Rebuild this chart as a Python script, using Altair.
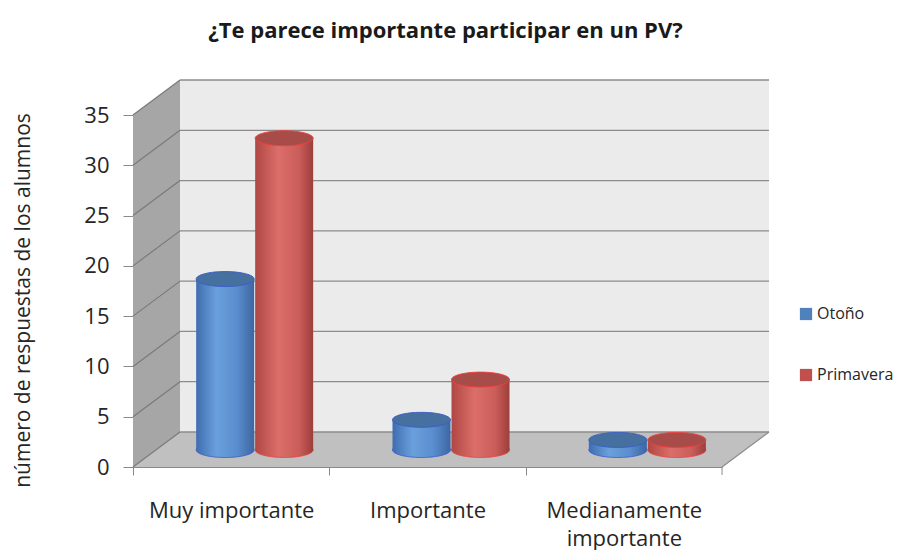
import altair as alt
import pandas as pd

# ---- data ----
categories = ["Muy importante", "Importante", "Medianamente importante"]
series = ["Otoño", "Primavera"]
otono = [17, 3, 1]
primavera = [31, 7, 1]
y_ticks = [0, 5, 10, 15, 20, 25, 30, 35]
title_text = "¿Te parece importante participar en un PV?"
y_title = "número de respuestas de los alumnos"

rows = []
for c, o, p in zip(categories, otono, primavera):
    rows.append({"categoria": c, "serie": series[0], "valor": o})
    rows.append({"categoria": c, "serie": series[1], "valor": p})
df = pd.DataFrame(rows)
ticks_df = pd.DataFrame({"v": y_ticks})
one = pd.DataFrame({"k": [0]})

# ---- layout (pixels) ----
W, H = 589, 352          # front frame of the plot
DX, DY = 47, -35         # 3D depth offset of the back wall
CY = -17                 # cylinders sit a bit behind the front edge
BW = 58                  # cylinder width
RX, RY = BW / 2, 7.5
FONT = "Open Sans"

yscale = alt.Scale(domain=[0, 35], nice=False, zero=True)
xscale = alt.Scale(domain=categories, paddingInner=0, paddingOuter=0)

X = alt.X("categoria:N", scale=xscale, sort=categories,
          axis=alt.Axis(title=None, labelAngle=0, tickOffset=-W / 6, labelOffset=W / 6,
                        domainColor="#8a8a8a", tickColor="#8a8a8a", tickSize=8,
                        labelFont=FONT, labelFontSize=22, labelColor="#262626",
                        labelPadding=25, labelLineHeight=28,
                        labelExpr="datum.value == 'Medianamente importante' ? ['Medianamente', 'importante'] : datum.label"))


def poly(path, color):
    return alt.Chart(one).mark_point(
        shape=path, size=4, filled=True, opacity=1, fill=color, strokeWidth=0
    ).encode(x=alt.value(0), y=alt.value(0))


back = poly(f"M {DX} {DY} L {W+DX} {DY} L {W+DX} {H+DY} L {DX} {H+DY} Z", "#ebebeb")
side = poly(f"M 0 0 L {DX} {DY} L {DX} {H+DY} L 0 {H} Z", "#a6a6a6")
floor = poly(f"M 0 {H} L {DX} {H+DY} L {W+DX} {H+DY} L {W} {H} Z", "#c0c0c0")

grid_back = alt.Chart(ticks_df).mark_rule(color="#8c8c8c", strokeWidth=1.3, yOffset=DY).encode(
    x=alt.value(DX), x2=alt.value(W + DX),
    y=alt.Y("v:Q", scale=yscale,
            axis=alt.Axis(title=y_title, values=y_ticks, grid=False,
                          domainColor="#8a8a8a", tickColor="#8a8a8a", tickSize=10,
                          labelFont=FONT, labelFontSize=22, labelColor="#262626",
                          labelPadding=14,
                          titleFont=FONT, titleFontSize=21, titleFontWeight="normal",
                          titleColor="#262626", titleAngle=-90,
                          titleX=-110, titleY=185, titleAlign="center",
                          titleBaseline="middle")),
)
grid_side = alt.Chart(ticks_df).mark_rule(color="#7a7a7a", strokeWidth=1.2, y2Offset=DY).encode(
    x=alt.value(0), x2=alt.value(DX),
    y=alt.Y("v:Q", scale=yscale), y2="v:Q",
)
edge_right = alt.Chart(one).mark_rule(color="#8c8c8c", strokeWidth=1.3).encode(
    x=alt.value(W), x2=alt.value(W + DX), y=alt.value(H), y2=alt.value(H + DY)
)
tick_end = alt.Chart(one).mark_rule(color="#8a8a8a", strokeWidth=1).encode(
    x=alt.value(W), y=alt.value(H), y2=alt.value(H + 8)
)


def grad(stops):
    return alt.LinearGradient(
        gradient="linear", x1=0, x2=1, y1=0, y2=0,
        stops=[alt.GradientStop(offset=o, color=c) for o, c in stops],
    )


ELL = f"M {-RX} 0 A {RX} {RY} 0 1 0 {RX} 0 A {RX} {RY} 0 1 0 {-RX} 0 Z"

styles = {
    "Otoño": dict(dx=-6,
                  body=grad([(0, "#3f6db0"), (0.35, "#6aa0dc"), (0.7, "#5a8ecf"), (1, "#3d66a2")]),
                  top="#45709f", stroke="#3b5cc8"),
    "Primavera": dict(dx=53,
                      body=grad([(0, "#b04744"), (0.4, "#db6e69"), (0.75, "#cb5e5a"), (1, "#9c3e3b")]),
                      top="#a84c49", stroke="#f0403c"),
}

cyl_layers = []
for s in series:
    st = styles[s]
    base = alt.Chart(df).transform_filter(alt.datum.serie == s)
    bottom = base.mark_point(shape=ELL, size=4, filled=True, opacity=1, fill=st["body"],
                             stroke=st["stroke"], strokeWidth=0.8,
                             xOffset=st["dx"], yOffset=CY).encode(
        x=X, y=alt.value(H))
    body = base.mark_bar(width=BW, color=st["body"], xOffset=st["dx"],
                         yOffset=CY, y2Offset=CY).encode(
        x=X, y=alt.Y("valor:Q", scale=yscale), y2=alt.datum(0))
    top = base.mark_point(shape=ELL, size=4, filled=True, opacity=1, fill=st["top"],
                          stroke=st["stroke"], strokeWidth=0.9,
                          xOffset=st["dx"], yOffset=CY).encode(
        x=X, y=alt.Y("valor:Q", scale=yscale))
    cyl_layers += [bottom, body, top]

legend_layer = alt.Chart(df).mark_square(opacity=0).encode(
    x=X, y=alt.Y("valor:Q", scale=yscale),
    color=alt.Color("serie:N", sort=series,
                    scale=alt.Scale(domain=series, range=["#4f81bd", "#c0504d"]),
                    legend=alt.Legend(title=None, orient="none", legendX=665, legendY=191,
                                      symbolType="square", symbolSize=150, symbolOpacity=1,
                                      symbolStrokeWidth=1, labelFont=FONT, labelFontSize=16,
                                      labelColor="#262626", rowPadding=45, labelOffset=3)),
)

chart = alt.layer(
    back, side, floor, grid_back, grid_side, edge_right, tick_end,
    *cyl_layers, legend_layer
).properties(
    width=W, height=H,
    padding={"left": 125, "top": 107, "right": 177, "bottom": 83},
    autosize=alt.AutoSizeParams(type="none"),
    title=alt.TitleParams(title_text, font=FONT, fontSize=22, fontWeight="bold",
                          color="#1a1a1a", anchor="middle", dx=18, offset=36),
).configure_view(stroke=None).configure(background="white")

chart.save("out.html", embed_options={"renderer": "svg", "actions": False})
